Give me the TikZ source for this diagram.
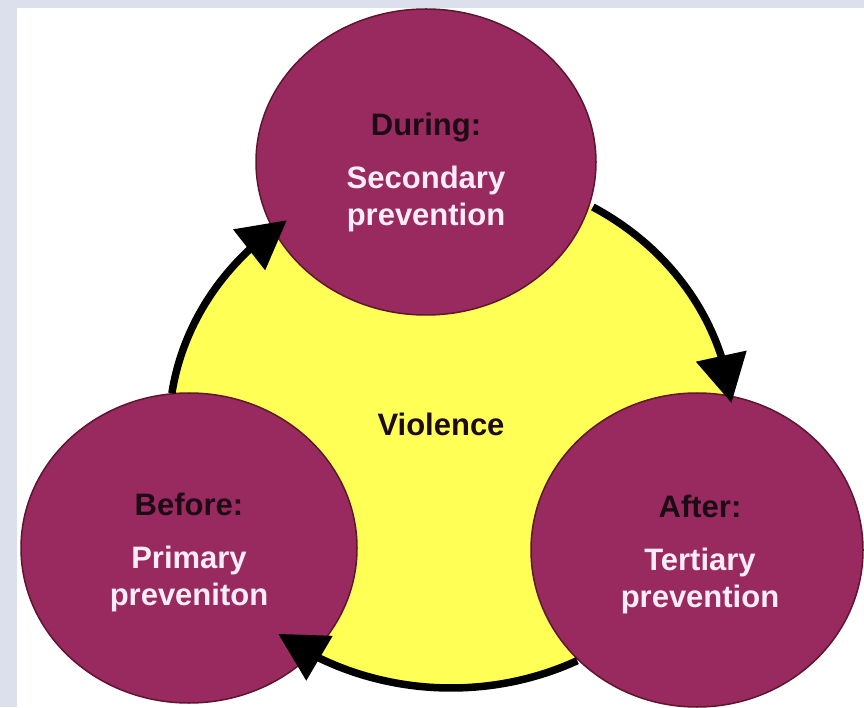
\documentclass[tikz,border=0pt]{standalone}
\usepackage{fontspec}
\setmainfont{Liberation Sans}
\usetikzlibrary{shapes.geometric,arrows.meta,bending}

\definecolor{framegray}{RGB}{220,224,236}
\definecolor{plum}{RGB}{152,42,96}
\definecolor{plumrim}{RGB}{95,22,45}
\definecolor{corefill}{RGB}{255,255,85}
\definecolor{inkdark}{RGB}{28,10,20}
\definecolor{inklight}{RGB}{255,236,246}

\tikzset{
  phase/.style={ellipse, fill=plum, draw=plumrim, line width=1.5pt,
    minimum width=336pt, minimum height=310pt, inner sep=0pt},
  phasetext/.style={align=center, text=inklight, inner sep=0pt,
    font=\bfseries\fontsize{31}{37}\selectfont},
  cyclearrow/.style={line width=7.5pt, -{Triangle[length=48pt,width=50pt]}}
}

\begin{document}
\begin{tikzpicture}[x=1pt,y=1pt]
\useasboundingbox (0,0) rectangle (864,707);
\fill[framegray] (0,0) rectangle (864,707);
\fill[white] (17,0) rectangle (864,699);

\node[ellipse, fill=corefill, minimum width=564pt, minimum height=516pt, inner sep=0pt] (core) at (451,277) {};

\node[phase, minimum width=340pt, minimum height=306pt] (during) at (426,545) {};
\node[phase] (before) at (189,159) {};
\node[phase, minimum width=332pt, minimum height=314pt] (after) at (697,157) {};

\draw[cyclearrow] ([shift={(171.8:282 and 258)}]core.center)
  arc[start angle=171.8, end angle=125.6, x radius=282, y radius=258];
\draw[cyclearrow] ([shift={(59.8:282 and 258)}]core.center)
  arc[start angle=59.8, end angle=6, x radius=282, y radius=258];
\draw[cyclearrow] ([shift={(-63.4:282 and 258)}]core.center)
  arc[start angle=-63.4, end angle=-127.8, x radius=282, y radius=258];

\node[font=\bfseries\fontsize{31}{37}\selectfont, text=inkdark] (violence) at (441,283) {Violence};

\node[phasetext] (duringtxt) at ([yshift=-10pt]during.center)
  {\textcolor{inkdark}{During:}\\[16pt]Secondary\\prevention};
\node[phasetext] (beforetxt) at ([yshift=-4pt]before.center)
  {\textcolor{inkdark}{Before:}\\[16pt]Primary\\preveniton};
\node[phasetext] (aftertxt) at ([shift={(3pt,-4pt)}]after.center)
  {\textcolor{inkdark}{After:}\\[16pt]Tertiary\\prevention};
\end{tikzpicture}
\end{document}
